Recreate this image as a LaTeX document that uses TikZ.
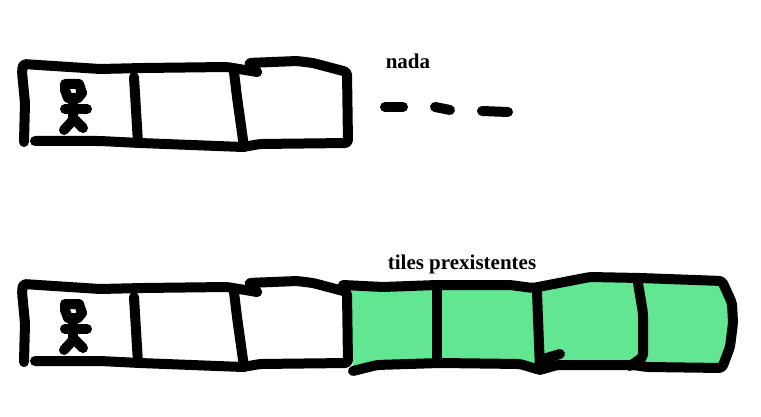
\documentclass[tikz,border=0pt]{standalone}
\usepackage{fontspec}
\setmainfont{Liberation Serif}
\usetikzlibrary{positioning}
\definecolor{tilegreen}{RGB}{99,230,145}
\tikzset{
	trazo/.style={line width=10pt,line cap=round,line join=round,rounded corners=3pt,black},
	figura/.style={line width=10pt,line cap=round,line join=round,black},
	etiqueta/.style={font=\bfseries\fontsize{21}{23}\selectfont,black,inner sep=0pt}
}
\begin{document}
\begin{tikzpicture}[x=1pt,y=-1pt]
	\useasboundingbox (0,0) rectangle (761,417);
	
	\coordinate (Nada) at (408,61);
	\coordinate (Tiles) at (462,264);
	
	\node[etiqueta] (lnada) at (Nada) {nada};
	\node[etiqueta] (ltiles) at (Tiles) {tiles prexistentes};
	
	% relleno de los tiles
	\fill[tilegreen] (348,288) -- (383,287) -- (437,285) -- (510,285) -- (533,288) -- (590,277) -- (640,278) -- (722,281) -- (732,303) -- (733,323) -- (730,347) -- (722,368) -- (647,367) -- (557,365) -- (540,370) -- (520,364) -- (440,363) -- (377,365) -- (353,371) -- cycle;
	
	% las dos tiras de casillas
	\foreach \oy in {0,220}{
		\begin{scope}[yshift=-\oy pt]
			\draw[trazo] (24,142) -- (25,103) -- (22,72) -- (23,64) -- (100,69) -- (143,68) -- (227,67) -- (257,72);
			\draw[trazo] (257,72) -- (248,63) -- (297,61) -- (313,63) -- (347,72) -- (348,143) -- (260,144) -- (243,147) -- (140,143) -- (100,141) -- (35,141);
			\draw[trazo] (134,77) -- (138,143);
			\draw[trazo] (234,72) -- (237,97) -- (244,147);
			
			\draw[figura] (65,84) -- (79,84) -- (82,93) -- (78,98) -- (68,98) -- (65,90) -- cycle;
			\draw[figura] (65,109) -- (87,109);
			\draw[figura] (73,101) -- (73,118);
			\draw[figura] (64,130) -- (74,119) -- (83,128);
		\end{scope}
	}
	
	% puntos suspensivos
	\draw[trazo] (385,107) -- (403,107);
	\draw[trazo] (435,107) -- (450,110);
	\draw[trazo] (482,111) -- (508,112);
	
	% contorno de los tiles
	\draw[trazo] (343,285) -- (383,287) -- (437,285) -- (510,285) -- (533,288) -- (590,277) -- (640,278) -- (722,281) -- (732,303) -- (733,323) -- (730,347) -- (722,368) -- (647,367) -- (633,365) -- (557,365) -- (540,370) -- (520,364) -- (440,363) -- (377,365) -- (353,371);
	\draw[trazo] (437,285) -- (437,363);
	\draw[trazo] (537,292) -- (540,370);
	\draw[trazo] (540,360) -- (560,354);
	\draw[trazo] (638,283) -- (643,313) -- (643,357) -- (630,366);
\end{tikzpicture}
\end{document}
